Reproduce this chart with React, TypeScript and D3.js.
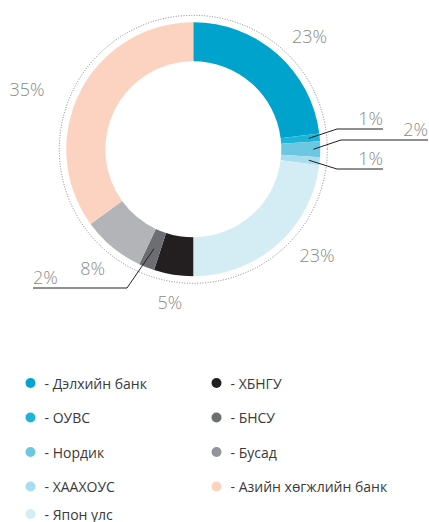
import React, { useRef, useEffect } from "react";
import * as d3 from "d3";

const categories = [
  "Дэлхийн банк",
  "ОУВС",
  "Нордик",
  "ХААХОУС",
  "Япон улс",
  "ХБНГУ",
  "БНСУ",
  "Бусад",
  "Азийн хөгжлийн банк",
];
const shares = [23, 1, 2, 1, 23, 5, 2, 8, 35];
const sliceColors = ["#00a3cc", "#1cb5d9", "#6cc8e2", "#a9dcee", "#d4edf5", "#231f20", "#6d6e71", "#b3b4b8", "#fbd3c0"];
const legendColors = ["#00a3cc", "#1cb5d9", "#6cc8e2", "#a9dcee", "#d4edf5", "#231f20", "#6d6e71", "#939598", "#fbd3c0"];

// label placement around the ring: [angle in degrees from 12 o'clock, radius]
const labelPolar: Record<number, [number, number]> = {
  0: [45.8, 162],
  4: [130.6, 163],
  5: [188.7, 154.5],
  7: [220.2, 156],
  8: [290, 177],
};

// leader lines for the thin slices: [elbowX, elbowY, endX, textSide]
const leaders: Record<number, [number, number, number, "left" | "right"]> = {
  1: [337, 129, 383, "right"],
  2: [341, 140, 428, "right"],
  3: [337, 169, 383, "right"],
  6: [127, 288, 33, "left"],
};

const App = () => {
  const svgRef = useRef<SVGSVGElement>(null);

  useEffect(() => {
    const width = 429;
    const height = 522;
    const cx = 193.3;
    const cy = 149.3;
    const outerR = 127;
    const innerR = 88;

    const svg = d3.select(svgRef.current).attr("width", width).attr("height", height);
    svg.selectAll("*").remove();

    const font = "'Open Sans', Lato, sans-serif";

    const pie = d3.pie<number>().sort(null).value((d) => d);
    const arcs = pie(shares);
    const arc = d3.arc<d3.PieArcDatum<number>>().innerRadius(innerR).outerRadius(outerR);

    const g = svg.append("g").attr("transform", `translate(${cx},${cy})`);

    // dotted outline
    g.append("circle")
      .attr("r", 134)
      .attr("fill", "none")
      .attr("stroke", "#777")
      .attr("stroke-width", 0.9)
      .attr("stroke-dasharray", "1,1.6");

    g.selectAll("path.slice")
      .data(arcs)
      .join("path")
      .attr("class", "slice")
      .attr("d", arc)
      .attr("fill", (_, i) => sliceColors[i]);

    // labels
    arcs.forEach((a, i) => {
      const mid = (a.startAngle + a.endAngle) / 2;
      const lead = leaders[i];
      if (!lead) {
        const [deg, r] = labelPolar[i] ?? [(mid * 180) / Math.PI, 155];
        const ang = (deg * Math.PI) / 180;
        g.append("text")
          .attr("x", Math.sin(ang) * r)
          .attr("y", -Math.cos(ang) * r)
          .attr("text-anchor", "middle")
          .attr("dominant-baseline", "central")
          .attr("font-family", font)
          .attr("font-size", 18)
          .attr("font-weight", 300)
          .attr("fill", "#8a8a8a")
          .text(`${shares[i]}%`);
        return;
      }
      const sr = i === 6 ? 107 : i === 2 ? 120 : 116;
      const sx = cx + Math.sin(mid) * sr;
      const sy = cy - Math.cos(mid) * sr;
      const [ex, ey, endX, side] = lead;
      svg.append("polyline")
        .attr("points", `${sx},${sy} ${ex},${ey} ${endX},${ey}`)
        .attr("fill", "none")
        .attr("stroke", "#231f20")
        .attr("stroke-width", 1);
      svg.append("text")
        .attr("x", endX)
        .attr("y", ey - 4)
        .attr("text-anchor", side === "right" ? "end" : "start")
        .attr("font-family", font)
        .attr("font-size", 18)
        .attr("font-weight", 300)
        .attr("fill", "#8a8a8a")
        .text(`${shares[i]}%`);
    });

    // legend
    const rowY = [383, 417.5, 452, 486.5, 514];
    const legend = svg.append("g");
    categories.forEach((c, i) => {
      const col = i < 5 ? 0 : 1;
      const row = col === 0 ? i : i - 5;
      const x = col === 0 ? 30.5 : 216.5;
      const y = rowY[row];
      legend.append("circle").attr("cx", x).attr("cy", y).attr("r", 5).attr("fill", legendColors[i]);
      legend.append("text")
        .attr("x", x + 14)
        .attr("y", y)
        .attr("dominant-baseline", "central")
        .attr("font-family", font)
        .attr("font-size", 14)
        .attr("fill", "#3a3a3a")
        .text(`-  ${c}`);
    });
  }, []);

  return (
    <div style={{ position: "absolute", left: 0, top: 0 }}>
      <svg ref={svgRef}></svg>
    </div>
  );
};

export default App;
